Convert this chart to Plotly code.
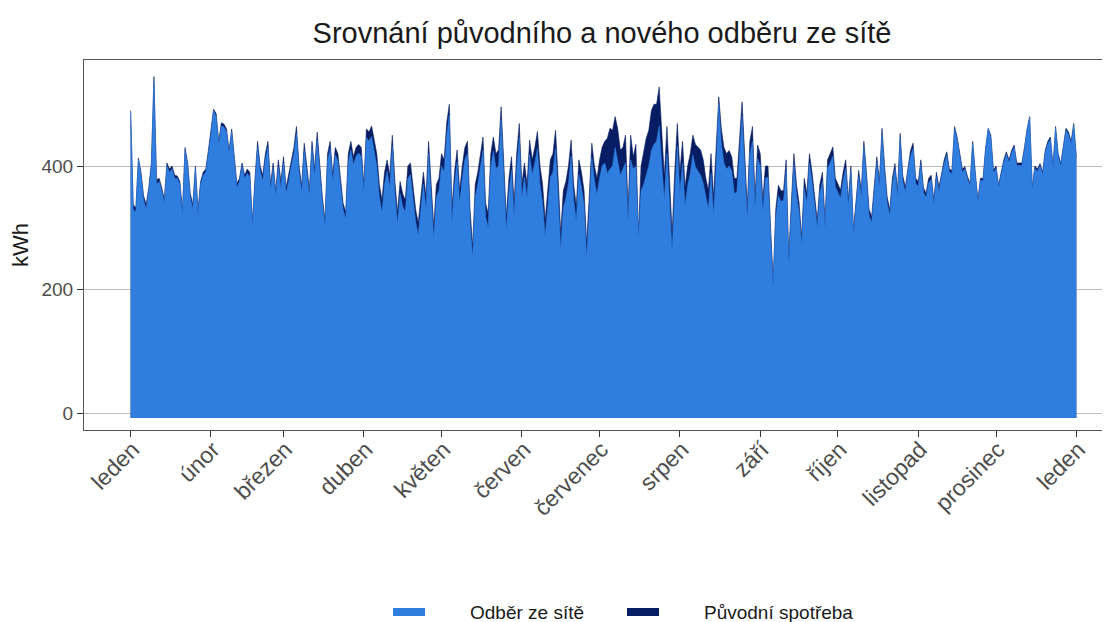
import datetime as dt
import plotly.graph_objects as go

# ---- data ----
start_date = "2023-01-01"
n_days = 366

original = [
    490,338,332,413,390,352,338,365,405,545,378,380,365,346,405,395,400,385,384,375,328,430,405,356,338,400,328,375,390,395,425,455,492,485,440,470,468,460,425,460,415,372,380,405,385,
    395,390,310,380,440,400,385,420,440,370,405,360,410,375,415,365,385,410,430,464,400,368,437,400,362,440,395,455,395,350,312,420,440,385,430,420,380,340,325,420,440,415,430,435,430,370,
    460,455,465,440,420,370,345,390,410,385,450,375,325,375,355,345,400,405,370,330,308,355,390,350,440,370,302,370,380,420,410,470,500,330,390,426,360,400,430,440,330,270,370,390,420,447,
    340,323,420,447,420,426,496,400,318,380,415,340,420,469,370,405,370,442,410,430,456,400,370,312,360,410,420,458,380,291,360,375,400,442,370,335,410,390,360,275,350,437,400,380,410,431,440,
    445,461,458,480,460,426,430,450,330,450,415,435,291,400,420,445,458,490,500,500,528,450,383,464,370,291,390,469,390,440,366,400,420,450,435,431,426,410,380,361,420,350,430,512,460,430,
    420,425,415,380,380,440,504,420,334,440,464,350,434,420,345,400,400,300,215,330,369,360,360,410,253,340,420,370,340,285,380,355,420,390,350,312,370,390,312,410,420,431,380,370,361,390,410,
    345,400,296,350,393,360,440,390,330,318,370,415,375,461,400,350,329,380,404,360,453,385,366,400,425,437,380,375,410,365,356,380,385,345,390,366,390,410,423,395,393,464,447,420,395,399,
    383,372,440,390,345,380,380,430,461,450,393,400,369,390,410,423,410,425,434,405,405,405,431,460,480,366,400,395,404,390,426,440,447,400,464,420,404,430,461,455,440,469,415,
]

grid = [
    487,330,325,410,385,345,330,360,400,535,370,375,360,340,400,390,395,380,380,370,320,425,400,350,330,395,320,370,385,390,420,450,490,480,435,465,463,455,420,455,410,365,375,400,380,
    388,383,303,372,430,392,376,410,430,361,396,352,400,365,405,356,375,400,420,452,390,358,425,390,352,428,384,442,384,340,302,408,428,374,418,408,368,330,314,406,426,402,416,421,416,358,
    446,440,448,422,400,350,325,370,392,365,432,355,306,355,335,325,380,386,350,310,288,335,370,330,420,350,282,350,360,400,390,450,482,308,370,406,340,380,410,420,310,250,350,370,398,426,
    318,300,398,424,396,400,475,378,296,358,393,318,396,446,348,382,348,418,386,405,428,370,340,286,334,382,390,428,350,264,332,348,372,416,346,310,386,366,336,252,326,413,376,354,380,400,405,
    388,395,400,430,410,385,395,405,310,410,395,400,282,360,370,385,400,425,435,440,465,400,345,420,338,262,355,432,358,405,335,368,388,418,398,392,385,372,348,330,388,320,400,500,435,405,
    395,400,392,355,358,420,480,398,314,418,440,330,412,400,326,380,382,285,205,315,352,343,344,392,240,325,402,354,325,272,364,340,404,375,336,300,356,375,300,396,405,416,366,357,348,376,396,
    335,390,288,340,383,350,430,380,320,308,360,405,366,450,390,340,320,370,395,350,443,376,357,392,416,428,372,367,402,357,349,373,378,338,383,359,384,404,417,390,388,460,443,415,390,395,
    379,368,436,386,341,376,376,426,460,446,389,396,365,386,406,419,406,421,430,401,401,401,427,458,478,362,396,391,400,386,422,436,443,396,461,416,400,426,458,451,436,466,412,
]

month_ticks = ["2023-01-01","2023-02-01","2023-03-01","2023-04-01","2023-05-01","2023-06-01",
               "2023-07-01","2023-08-01","2023-09-01","2023-10-01","2023-11-01","2023-12-01","2024-01-01"]
month_labels = ["leden","únor","březen","duben","květen","červen","červenec","srpen",
                "září","říjen","listopad","prosinec","leden"]
y_ticks = [0, 200, 400]
series_names = ["Odběr ze sítě", "Původní spotřeba"]

# ---- style ----
BLUE = "#2F7EDF"
NAVY = "#061D63"
BASE = -8
FONT = "Liberation Sans, Arial, sans-serif"
W, H = 1102, 614          # page body has an 8 px margin inside the 1110x622 window

d0 = dt.date.fromisoformat(start_date)
dates = [d0 + dt.timedelta(days=i) for i in range(n_days)]
base = [BASE] * n_days

fig = go.Figure()
fig.add_trace(go.Scatter(x=dates, y=base, mode="lines", line=dict(width=0),
                         showlegend=False, hoverinfo="skip"))
fig.add_trace(go.Scatter(x=dates, y=original, mode="lines", name=series_names[1],
                         fill="tonexty", fillcolor=NAVY, line=dict(color=NAVY, width=0.6),
                         showlegend=False))
fig.add_trace(go.Scatter(x=dates, y=base, mode="lines", line=dict(width=0),
                         showlegend=False, hoverinfo="skip"))
fig.add_trace(go.Scatter(x=dates, y=grid, mode="lines", name=series_names[0],
                         fill="tonexty", fillcolor=BLUE, line=dict(color=BLUE, width=0.6),
                         showlegend=False))

# manual legend in paper coordinates (plot area: page x 84..1110, page y 60..430)
def px_x(p):
    return (p - 84) / 1026.0

def px_y(p):
    return (430 - p) / 370.0

legend_items = [(series_names[0], BLUE, 393, 468), (series_names[1], NAVY, 627, 702)]
for name, color, sx, tx in legend_items:
    fig.add_shape(type="rect", xref="paper", yref="paper",
                  x0=px_x(sx), x1=px_x(sx + 32), y0=px_y(608), y1=px_y(616),
                  fillcolor=color, line=dict(width=0))
    fig.add_annotation(xref="paper", yref="paper", x=px_x(tx), y=px_y(612),
                       xanchor="left", yanchor="middle", text=name, showarrow=False,
                       font=dict(size=19, color="#1a1a1a", family=FONT))

x_lo = d0 - dt.timedelta(days=18.2)
x_hi = d0 + dt.timedelta(days=378.6)

fig.update_layout(
    width=W, height=H,
    margin=dict(l=76, r=0, t=52, b=192),
    paper_bgcolor="white", plot_bgcolor="white",
    font=dict(family=FONT, color="#4d4d4d"),
    title=dict(text="Srovnání původního a nového odběru ze sítě", x=594 / W, xanchor="center",
               y=1 - 25 / H, yanchor="middle", font=dict(size=29, color="#1a1a1a", family=FONT)),
    showlegend=False,
    xaxis=dict(range=[x_lo, x_hi], tickvals=month_ticks, ticktext=month_labels,
               tickangle=-45, tickfont=dict(size=23, color="#4d4d4d"),
               ticklabelshift=2, ticklabelstandoff=-10,
               showgrid=False, zeroline=False, ticks="outside", ticklen=6,
               tickcolor="#333333", showline=True, linecolor="#555555", linewidth=1,
               mirror=True, automargin=False),
    yaxis=dict(range=[-27.5, 571.7], tickvals=y_ticks, tickfont=dict(size=19, color="#4d4d4d"),
               title=dict(text="kWh", font=dict(size=22, color="#1a1a1a"), standoff=8),
               showgrid=True, gridcolor="#bdbdbd", gridwidth=1.3, zeroline=False,
               ticks="outside", ticklen=6, tickcolor="#333333",
               showline=True, linecolor="#555555", linewidth=1, mirror=False,
               automargin=False, layer="below traces"),
)

fig.write_html("out.html")
